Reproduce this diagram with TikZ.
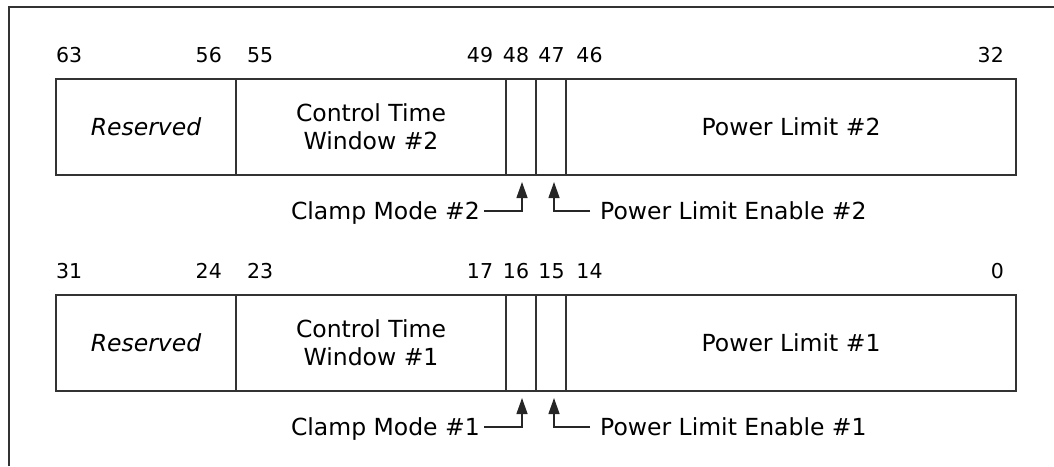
\documentclass[tikz,border=0pt]{standalone}
\usepackage{fontspec}
\setmainfont{DejaVu Sans}
\usepackage{tikz}
\usetikzlibrary{arrows.meta,positioning}

\tikzset{
  field/.style={draw=black!80, line width=1.3pt, minimum height=96pt, inner sep=0pt,
    outer sep=0pt, align=center, font=\fontsize{23.5}{28}\selectfont},
  bitno/.style={font=\fontsize{20.5}{24}\selectfont, inner sep=0pt, anchor=base},
  flag/.style={font=\fontsize{23.5}{28}\selectfont, inner sep=0pt},
  pointer/.style={line width=1.3pt, draw=black!85, -{Triangle[length=16pt,width=11pt]}},
}

\begin{document}
\begin{tikzpicture}[x=1pt, y=-1pt]
  \useasboundingbox (0,0) rectangle (1054,466);
  % frame
  \draw[line width=1.3pt, black!80] (9,466) -- (9,7) -- (1054,7);

  \foreach \n/\dy/\a/\b/\c/\d/\e/\f/\g/\h in
      {2/0/63/56/55/49/48/47/46/32, 1/216/31/24/23/17/16/15/14/0} {
    \begin{scope}[shift={(0,\dy)}]
      % fields
      \node[field, minimum width=180pt, anchor=west] (res\n) at (56,127) {\itshape Reserved};
      \node[field, minimum width=270pt, right=0pt of res\n] (ctw\n) {Control Time\\Window \#\n};
      \node[field, minimum width=30pt, right=0pt of ctw\n] (cm\n) {};
      \node[field, minimum width=30pt, right=0pt of cm\n] (ple\n) {};
      \node[field, minimum width=450pt, right=0pt of ple\n] (pl\n) {Power Limit \#\n};

      % bit numbers
      \node[bitno, anchor=base west] (bit\a) at (56,62) {\a};
      \node[bitno, anchor=base east] (bit\b) at (222,62) {\b};
      \node[bitno, anchor=base west] (bit\c) at (247,62) {\c};
      \node[bitno] (bit\d) at (480,62) {\d};
      \node[bitno] (bit\e) at (516,62) {\e};
      \node[bitno] (bit\f) at (551.5,62) {\f};
      \node[bitno] (bit\g) at (589.5,62) {\g};
      \node[bitno, anchor=base east] (bit\h) at (1004,62) {\h};

      % single-bit flags
      \node[flag, anchor=base east] (cml\n) at (480,219) {Clamp Mode \#\n};
      \node[flag, anchor=base west] (plel\n) at (600,219) {Power Limit Enable \#\n};
      \draw[pointer] ([xshift=4pt,yshift=8pt]cml\n.base east) -| ([xshift=1pt,yshift=-7pt]cm\n.south);
      \draw[pointer] ([xshift=-10pt,yshift=8pt]plel\n.base west) -| ([xshift=3pt,yshift=-7pt]ple\n.south);
    \end{scope}
  }
\end{tikzpicture}
\end{document}
